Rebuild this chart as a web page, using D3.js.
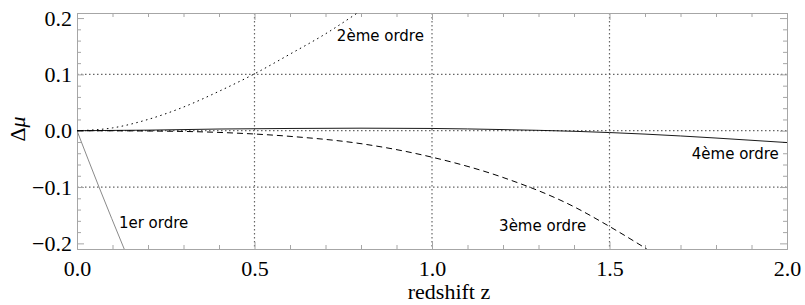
<!DOCTYPE html>
<html>
<head>
<meta charset="utf-8">
<script src="https://cdn.jsdelivr.net/npm/d3@7"></script>
<style>
  body { margin: 0; background: #fff; }
  .tick text { font-family: "Liberation Serif", "Times New Roman", serif; font-size: 22px; fill: #000; }
  .lbl { font-family: "DejaVu Sans", sans-serif; font-size: 15px; fill: #000; }
</style>
</head>
<body>
<svg width="805" height="305"></svg>
<script>
// redshift values (z) and delta mu
const z1 = [0, 0.062, 0.133];
const mu1 = [0, -0.1, -0.21];

const z2 = [0, 0.1, 0.2, 0.3, 0.4, 0.5, 0.6, 0.7, 0.792];
const mu2 = [0, 0.005, 0.02, 0.042, 0.07, 0.101, 0.136, 0.172, 0.21];

const z3 = [0, 0.2, 0.4, 0.6, 0.8, 1.0, 1.2, 1.4, 1.5, 1.605];
const mu3 = [0, -0.0005, -0.003, -0.010, -0.023, -0.047, -0.083, -0.135, -0.170, -0.21];

const z4 = [0, 0.2, 0.4, 0.6, 0.8, 1.0, 1.2, 1.4, 1.6, 1.8, 2.0];
const mu4 = [0, 0.001, 0.003, 0.004, 0.0045, 0.004, 0.002, -0.001, -0.006, -0.013, -0.021];

const xTicks = [0, 0.5, 1.0, 1.5, 2.0];
const yTicks = [-0.2, -0.1, 0.0, 0.1, 0.2];
const xGrid = [0.5, 1.0, 1.5];
const yGrid = [-0.1, 0.0, 0.1];

const labels = [
  {text: '1er ordre', z: 0.118, mu: -0.173, anchor: 'start'},
  {text: '2ème ordre', z: 0.732, mu: 0.159, anchor: 'start'},
  {text: '3ème ordre', z: 1.189, mu: -0.178, anchor: 'start'},
  {text: '4ème ordre', z: 1.977, mu: -0.050, anchor: 'end'}
];

const svg = d3.select('svg');
const margin = {top: 13, right: 18, bottom: 56, left: 77};
const width = +svg.attr('width') - margin.left - margin.right;
const height = +svg.attr('height') - margin.top - margin.bottom;

const x = d3.scaleLinear().domain([0, 2]).range([margin.left, margin.left + width]);
const y = d3.scaleLinear().domain([-0.21, 0.209]).range([margin.top + height, margin.top]);

const frameColor = '#a6a6a6';
const minorX = d3.range(0, 2.001, 0.1).map(d => +d.toFixed(2)).filter(d => !xTicks.includes(d));
const minorY = d3.range(-0.2, 0.201, 0.02).map(d => +d.toFixed(2)).filter(d => !yTicks.some(t => Math.abs(t - d) < 1e-9));

svg.append('defs').append('clipPath').attr('id', 'clip')
  .append('rect')
    .attr('x', margin.left).attr('y', margin.top)
    .attr('width', width).attr('height', height);

// grid
svg.append('g').selectAll('line')
  .data(xGrid)
  .enter().append('line')
    .attr('x1', d => x(d)).attr('x2', d => x(d))
    .attr('y1', margin.top).attr('y2', margin.top + height)
    .attr('stroke', '#666').attr('stroke-width', 1.2).attr('stroke-dasharray', '1.5,2.5');

svg.append('g').selectAll('line')
  .data(yGrid)
  .enter().append('line')
    .attr('x1', margin.left).attr('x2', margin.left + width)
    .attr('y1', d => y(d)).attr('y2', d => y(d))
    .attr('stroke', '#666').attr('stroke-width', 1.2).attr('stroke-dasharray', '1.5,2.5');

// frame with ticks on all four sides
function frameAxis(axis, transform, labels) {
  const g = svg.append('g')
    .attr('transform', transform)
    .call(axis);
  g.select('.domain').attr('stroke', frameColor);
  g.selectAll('.tick line').attr('stroke', frameColor);
  if (!labels) g.selectAll('.tick text').remove();
  return g;
}

const fmt = d => d3.format('.1f')(d).replace('-', '\u2212');

frameAxis(d3.axisBottom(x).tickValues(xTicks).tickSize(-7).tickSizeOuter(0).tickPadding(11).tickFormat(fmt),
  `translate(0,${margin.top + height})`, true);
frameAxis(d3.axisBottom(x).tickValues(minorX).tickSize(-4).tickSizeOuter(0).tickFormat(''),
  `translate(0,${margin.top + height})`, false);
frameAxis(d3.axisTop(x).tickValues(xTicks).tickSize(-7).tickSizeOuter(0),
  `translate(0,${margin.top})`, false);
frameAxis(d3.axisTop(x).tickValues(minorX).tickSize(-4).tickSizeOuter(0),
  `translate(0,${margin.top})`, false);

frameAxis(d3.axisLeft(y).tickValues(yTicks).tickSize(-7).tickSizeOuter(0).tickPadding(5).tickFormat(fmt),
  `translate(${margin.left},0)`, true);
frameAxis(d3.axisLeft(y).tickValues(minorY).tickSize(-4).tickSizeOuter(0).tickFormat(''),
  `translate(${margin.left},0)`, false);
frameAxis(d3.axisRight(y).tickValues(yTicks).tickSize(-7).tickSizeOuter(0),
  `translate(${margin.left + width},0)`, false);
frameAxis(d3.axisRight(y).tickValues(minorY).tickSize(-4).tickSizeOuter(0),
  `translate(${margin.left + width},0)`, false);

svg.selectAll('.tick text').attr('font-family', null).attr('font-size', null);

// curves
const line = d3.line()
  .x(d => x(d[0]))
  .y(d => y(d[1]))
  .curve(d3.curveMonotoneX);

const series = [
  {z: z1, mu: mu1, stroke: '#8a8a8a', width: 1, dash: null},
  {z: z2, mu: mu2, stroke: '#000', width: 1, dash: '1.5,3.5'},
  {z: z3, mu: mu3, stroke: '#000', width: 1, dash: '6,4'},
  {z: z4, mu: mu4, stroke: '#000', width: 0.9, dash: null}
];

svg.append('g')
  .attr('clip-path', 'url(#clip)')
  .selectAll('path')
  .data(series)
  .enter().append('path')
    .attr('d', s => line(s.z.map((d, i) => [d, s.mu[i]])))
    .attr('fill', 'none')
    .attr('stroke', s => s.stroke)
    .attr('stroke-width', s => s.width)
    .attr('stroke-dasharray', s => s.dash);

svg.append('g').selectAll('text')
  .data(labels)
  .enter().append('text')
    .attr('class', 'lbl')
    .attr('x', d => x(d.z))
    .attr('y', d => y(d.mu))
    .attr('text-anchor', d => d.anchor)
    .text(d => d.text);

// axis titles
svg.append('text')
  .attr('x', 449).attr('y', 299)
  .attr('text-anchor', 'middle')
  .attr('font-family', '"Liberation Serif", "Times New Roman", serif')
  .attr('font-size', 22)
  .text('redshift z');

const yTitle = svg.append('text')
  .attr('transform', 'translate(25,129) rotate(-90)')
  .attr('text-anchor', 'middle')
  .attr('font-family', '"Liberation Serif", "Times New Roman", serif')
  .attr('font-size', 22);
yTitle.append('tspan').text('\u0394');
yTitle.append('tspan').attr('font-style', 'italic').text('\u03bc');
</script>
</body>
</html>
